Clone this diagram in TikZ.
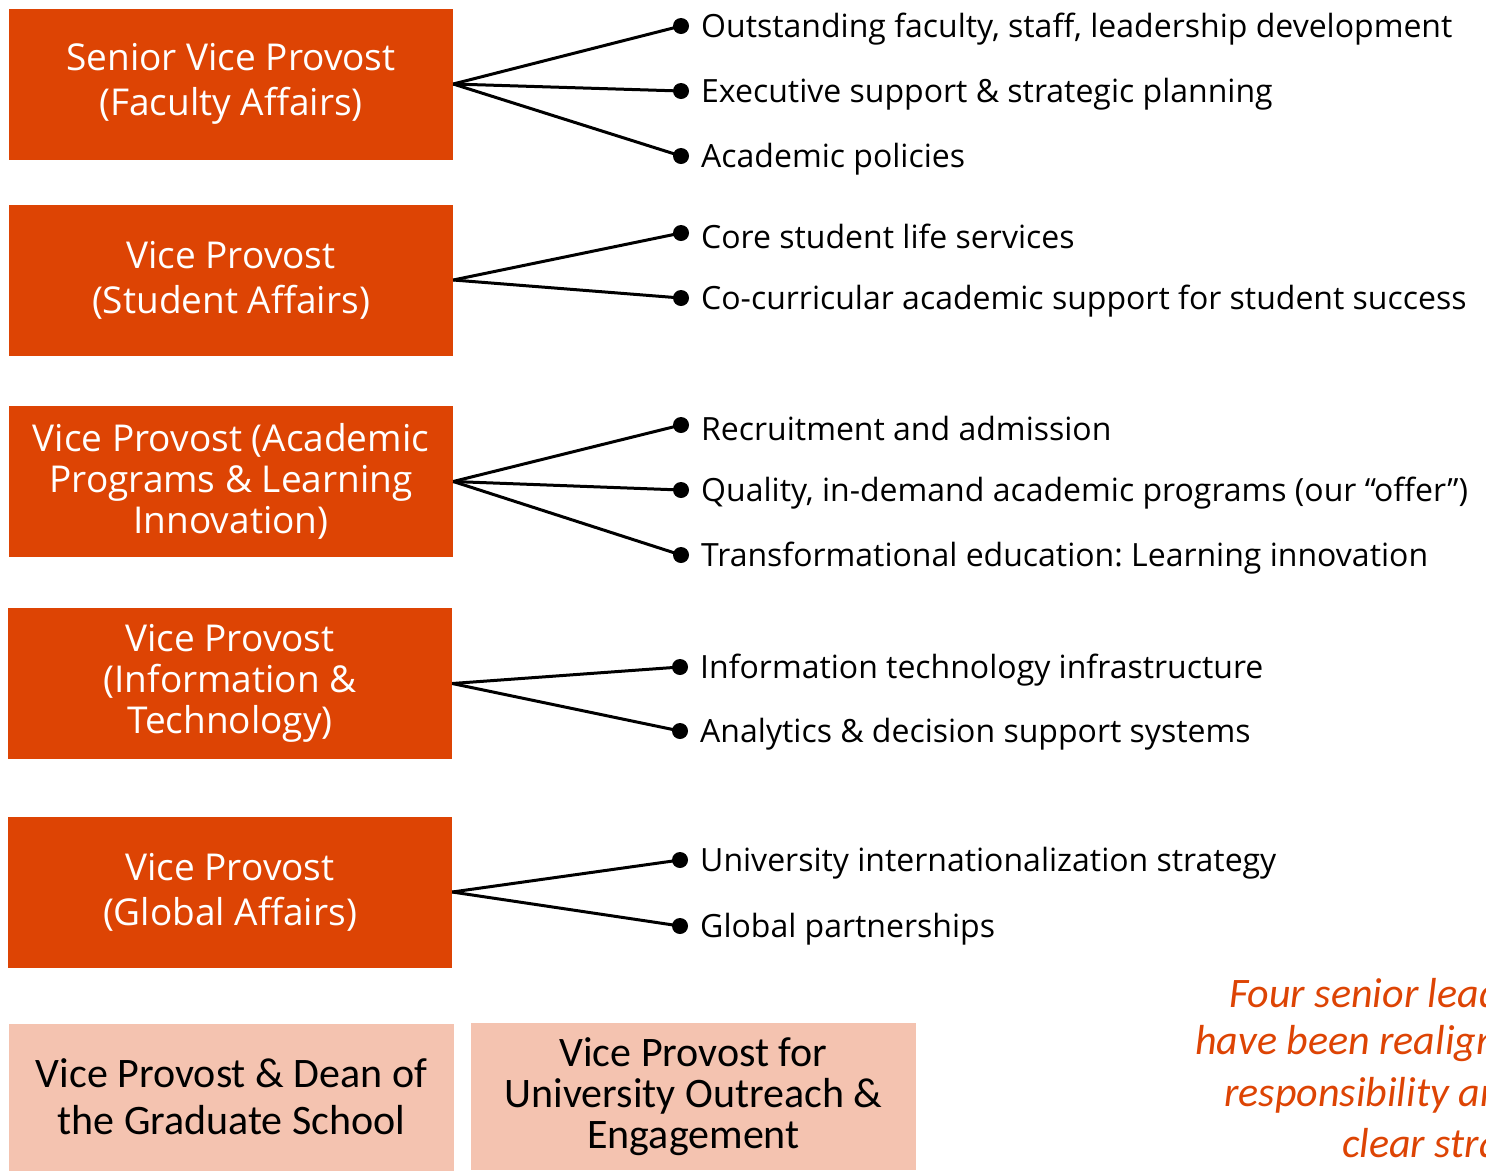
\documentclass[tikz,border=0pt]{standalone}
\usepackage{fontspec}
\setmainfont{Open Sans}
\newfontfamily\calfont{Carlito}
\definecolor{vporange}{RGB}{221,68,4}
\definecolor{vppink}{RGB}{244,195,176}
\definecolor{notecol}{RGB}{221,68,4}
\frenchspacing
\begin{document}
\begin{tikzpicture}[x=1pt,y=-1pt,
 vpbox/.style={fill=vporange, text=white, minimum width=444pt, minimum height=151pt, inner sep=0pt, align=center, font=\fontsize{37}{45}\selectfont},
 pinkbox/.style={fill=vppink, text=black, minimum width=445pt, minimum height=147pt, inner sep=0pt, align=center, font=\calfont\fontsize{42}{47}\selectfont},
 dotnode/.style={circle, fill=black, minimum size=16pt, inner sep=0pt},
 item/.style={anchor=west, inner sep=0pt, font=\fontsize{32}{38}\selectfont},
 link/.style={line width=3pt},
 note/.style={anchor=west, inner sep=0pt, text=notecol, font=\calfont\itshape\fontsize{42}{50}\selectfont}]
\useasboundingbox (0,0) rectangle (1486,1171);
\clip (0,0) rectangle (1486,1171);

\node[vpbox] (b1) at (231,84) {Senior Vice Provost\\(Faculty Affairs)};
\node[vpbox] (b2) at (231,280) {Vice Provost\\(Student Affairs)};
\node[vpbox, font=\fontsize{37}{41}\selectfont] (b3) at (231,481.5) {Vice Provost (Academic\\Programs \& Learning\\Innovation)};
\node[vpbox, font=\fontsize{37}{41}\selectfont] (b4) at (230,683.5) {Vice Provost\\(Information \&\\Technology)};
\node[vpbox] (b5) at (230,892) {Vice Provost\\(Global Affairs)};

\node[pinkbox] (p1) at (231.5,1097) {Vice Provost \& Dean of\\the Graduate School};
\node[pinkbox, font=\calfont\fontsize{42}{41}\selectfont] (p2) at (693.5,1096.5) {Vice Provost for\\University Outreach \&\\Engagement};

% dots
\node[dotnode] (d11) at (681,26) {};
\node[dotnode] (d12) at (681,91) {};
\node[dotnode] (d13) at (681,156) {};
\node[dotnode] (d21) at (681,233) {};
\node[dotnode] (d22) at (681,298) {};
\node[dotnode] (d31) at (681,425) {};
\node[dotnode] (d32) at (681,490) {};
\node[dotnode] (d33) at (681,555) {};
\node[dotnode] (d41) at (680,667) {};
\node[dotnode] (d42) at (680,731) {};
\node[dotnode] (d51) at (680,860) {};
\node[dotnode] (d52) at (680,926) {};

\foreach \b/\d in {b1/d11,b1/d12,b1/d13,b2/d21,b2/d22,b3/d31,b3/d32,b3/d33,b4/d41,b4/d42,b5/d51,b5/d52}
  \draw[link] (\b.east) -- (\d.center);

% labels
\node[item] (l11) at (701,29) {Outstanding faculty, staff, leadership development};
\node[item] (l12) at (701,94) {Executive support \& strategic planning};
\node[item] (l13) at (701,159) {Academic policies};
\node[item] (l21) at (701,236) {Core student life services};
\node[item] (l22) at (701,301) {Co-curricular academic support for student success};
\node[item] (l31) at (701,428) {Recruitment and admission};
\node[item] (l32) at (701,493) {Quality, in-demand academic programs (our “offer”)};
\node[item] (l33) at (701,558) {Transformational education: Learning innovation};
\node[item] (l41) at (700,670) {Information technology infrastructure};
\node[item] (l42) at (700,734) {Analytics \& decision support systems};
\node[item] (l51) at (700,863) {University internationalization strategy};
\node[item] (l52) at (700,929) {Global partnerships};

% note (cut off at the right edge, as in the reference)
\node[note] (n1) at (1229,993) {Four senior leaders};
\node[note] (n2) at (1195,1044) {have been realigned};
\node[note] (n3) at (1224,1095) {responsibility and};
\node[note] (n4) at (1342,1146) {clear strategy};
\end{tikzpicture}
\end{document}
